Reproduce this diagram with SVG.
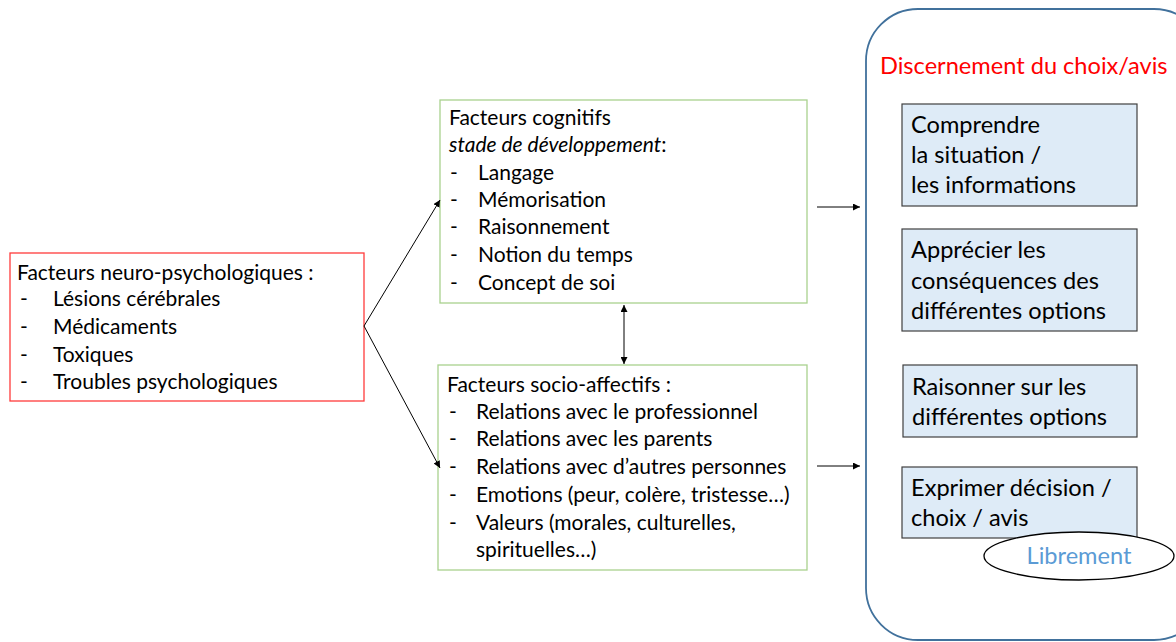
<svg xmlns="http://www.w3.org/2000/svg" width="1176" height="642" viewBox="0 0 1176 642">
<style>
text{font-family:"Lato","Liberation Sans",sans-serif;font-size:21px;fill:#000}
.big{font-size:23.6px}
.red{fill:#fff;stroke:#ff3b3b;stroke-width:1.3}
.green{fill:#fff;stroke:#a9d18e;stroke-width:1.3}
.blue{fill:#deebf7;stroke:#404040;stroke-width:1.2}
.conn{stroke:#000;stroke-width:1;fill:none}
</style>
<defs>
<marker id="ah" viewBox="0 0 10 10" refX="10" refY="5" markerWidth="7" markerHeight="7" orient="auto-start-reverse" markerUnits="userSpaceOnUse"><path d="M0,0 L10,5 L0,10 z" fill="#000"/></marker>
</defs>
<g id="container">
<rect x="866" y="9" width="340" height="631" rx="52" ry="52" fill="#fff" stroke="#41719c" stroke-width="1.8"/>
<text x="880" y="74" class="big" style="fill:#ff0000">Discernement du choix/avis</text>
</g>
<g id="neuro">
<rect class="red" x="10" y="253" width="354" height="148"/>
<text x="17" y="280">Facteurs neuro-psychologiques :</text>
<text x="20" y="306">-</text><text x="53" y="306">Lésions cérébrales</text>
<text x="20" y="334">-</text><text x="53" y="334">Médicaments</text>
<text x="20" y="362">-</text><text x="53" y="362">Toxiques</text>
<text x="20" y="389">-</text><text x="53" y="389">Troubles psychologiques</text>
</g>
<g id="cognitifs">
<rect class="green" x="440" y="100" width="367" height="203"/>
<text x="449" y="125">Facteurs cognitifs</text>
<text x="449" y="152"><tspan font-style="italic">stade de développement</tspan>:</text>
<text x="450" y="180">-</text><text x="478" y="180">Langage</text>
<text x="450" y="207">-</text><text x="478" y="207">Mémorisation</text>
<text x="450" y="234">-</text><text x="478" y="234">Raisonnement</text>
<text x="450" y="262">-</text><text x="478" y="262">Notion du temps</text>
<text x="450" y="290">-</text><text x="478" y="290">Concept de soi</text>
</g>
<g id="socio">
<rect class="green" x="438" y="365" width="369" height="205"/>
<text x="447" y="392">Facteurs socio-affectifs :</text>
<text x="449" y="419">-</text><text x="476" y="419">Relations avec le professionnel</text>
<text x="449" y="446">-</text><text x="476" y="446">Relations avec les parents</text>
<text x="449" y="474">-</text><text x="476" y="474">Relations avec d’autres personnes</text>
<text x="449" y="502">-</text><text x="476" y="502">Emotions (peur, colère, tristesse…)</text>
<text x="449" y="530">-</text><text x="476" y="530">Valeurs (morales, culturelles,</text>
<text x="476" y="557">spirituelles…)</text>
</g>
<g id="comprendre">
<rect class="blue" x="902" y="104" width="235" height="102"/>
<text class="big" x="911" y="133">Comprendre</text>
<text class="big" x="911" y="163">la situation /</text>
<text class="big" x="911" y="193">les informations</text>
</g>
<g id="apprecier">
<rect class="blue" x="902" y="229" width="235" height="102"/>
<text class="big" x="911" y="258">Apprécier les</text>
<text class="big" x="911" y="289">conséquences des</text>
<text class="big" x="911" y="319">différentes options</text>
</g>
<g id="raisonner">
<rect class="blue" x="903" y="365" width="234" height="72"/>
<text class="big" x="912" y="395">Raisonner sur les</text>
<text class="big" x="912" y="425">différentes options</text>
</g>
<g id="exprimer">
<rect class="blue" x="902" y="467" width="235" height="71"/>
<text class="big" x="911" y="496">Exprimer décision /</text>
<text class="big" x="911" y="526">choix / avis</text>
</g>
<g id="librement">
<ellipse cx="1079" cy="556" rx="95" ry="24" fill="#fff" stroke="#000" stroke-width="1.3"/>
<text class="big" x="1079" y="564" text-anchor="middle" style="fill:#5b9bd5">Librement</text>
</g>
<g id="connectors">
<line class="conn" x1="364" y1="326" x2="440" y2="200" marker-end="url(#ah)"/>
<line class="conn" x1="364" y1="326" x2="440" y2="468" marker-end="url(#ah)"/>
<line class="conn" x1="624" y1="305" x2="624" y2="364" marker-start="url(#ah)" marker-end="url(#ah)"/>
<line class="conn" x1="817" y1="207" x2="860" y2="207" marker-end="url(#ah)"/>
<line class="conn" x1="817" y1="466" x2="860" y2="466" marker-end="url(#ah)"/>
</g>
</svg>
